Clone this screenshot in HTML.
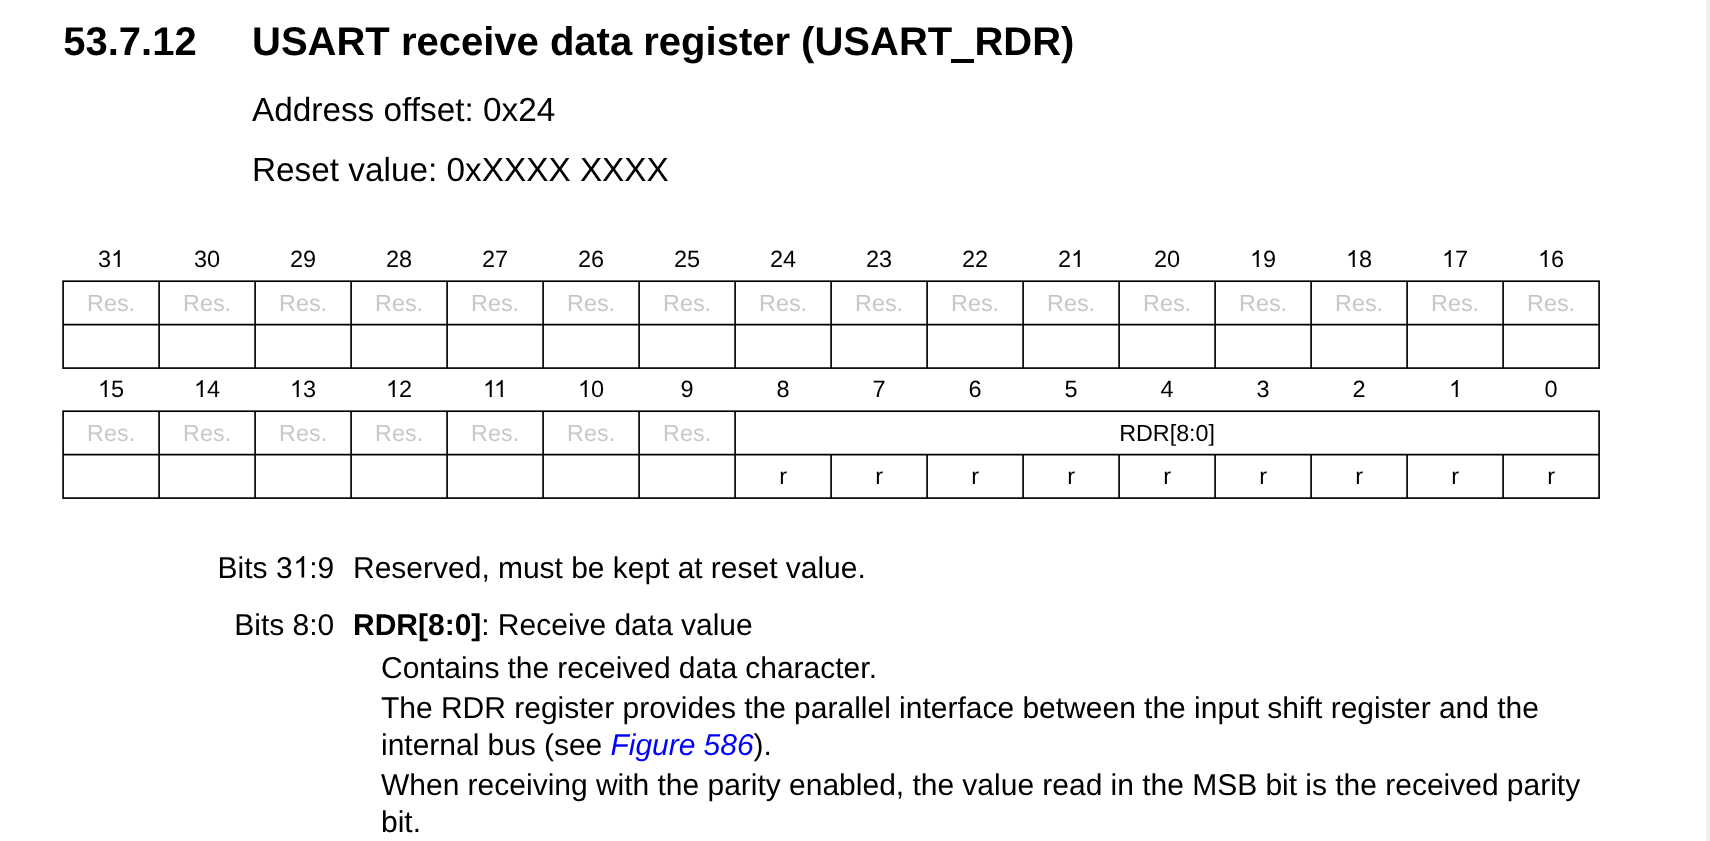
<!DOCTYPE html>
<html><head><meta charset="utf-8"><title>USART_RDR</title>
<style>
html,body{margin:0;padding:0;background:#fff;}
body{width:1710px;height:841px;position:relative;overflow:hidden;font-family:"Liberation Sans",sans-serif;color:#000;}
#pg{position:absolute;left:0;top:0;width:1710px;height:841px;will-change:transform;text-rendering:geometricPrecision;}
.t{position:absolute;white-space:nowrap;line-height:1em;}
.c{text-align:center;}
.r{text-align:right;}
.b{font-weight:bold;}
.g{color:#c8c8c8;}
.lnk{color:#0000ff;font-style:italic;}
.us{display:inline-block;position:relative;width:0.556em;height:0.1em;}
.us i{position:absolute;left:-0.0285em;right:0.0005em;top:0.202em;height:0.095em;background:#000;}
#edge{position:absolute;left:1706px;top:0;width:4px;height:841px;background:#f0f0f0;border-left:1px solid #f1f1f1;box-sizing:border-box;}
svg.ln{position:absolute;left:0;top:0;}
svg.one{display:inline-block;width:0.55615em;height:0.71875em;vertical-align:baseline;overflow:visible;}
</style></head><body>
<div id="edge"></div>
<div id="pg">

<div class="t b" style="left:63.20px;top:22px;font-size:40px;">53.7.12</div>
<div class="t b" style="left:252.00px;top:22px;font-size:40px;">USART receive data register (USART<span class="us"><i></i></span>RDR)</div>
<div class="t " style="left:252.00px;top:94px;font-size:33.33px;">Address offset: 0x24</div>
<div class="t " style="left:252.00px;top:154px;font-size:33.33px;">Reset value: 0xXXXX XXXX</div>
<svg class="ln" width="1710" height="841" viewBox="0 0 1710 841"><g stroke="#000" stroke-width="1.67" fill="none"><rect x="63.1" y="281.2" width="1536.00" height="86.90"/><path d="M63.1 324.6H1599.1"/><path d="M159.10 281.2V368.1"/><path d="M255.10 281.2V368.1"/><path d="M351.10 281.2V368.1"/><path d="M447.10 281.2V368.1"/><path d="M543.10 281.2V368.1"/><path d="M639.10 281.2V368.1"/><path d="M735.10 281.2V368.1"/><path d="M831.10 281.2V368.1"/><path d="M927.10 281.2V368.1"/><path d="M1023.10 281.2V368.1"/><path d="M1119.10 281.2V368.1"/><path d="M1215.10 281.2V368.1"/><path d="M1311.10 281.2V368.1"/><path d="M1407.10 281.2V368.1"/><path d="M1503.10 281.2V368.1"/><rect x="63.1" y="411.2" width="1536.00" height="86.90"/><path d="M63.1 454.6H1599.1"/><path d="M159.10 411.2V498.1"/><path d="M255.10 411.2V498.1"/><path d="M351.10 411.2V498.1"/><path d="M447.10 411.2V498.1"/><path d="M543.10 411.2V498.1"/><path d="M639.10 411.2V498.1"/><path d="M735.10 411.2V498.1"/><path d="M831.10 454.6V498.1"/><path d="M927.10 454.6V498.1"/><path d="M1023.10 454.6V498.1"/><path d="M1119.10 454.6V498.1"/><path d="M1215.10 454.6V498.1"/><path d="M1311.10 454.6V498.1"/><path d="M1407.10 454.6V498.1"/><path d="M1503.10 454.6V498.1"/></g></svg>
<div class="t c " style="left:11.10px;width:200px;top:248px;font-size:23.5px;">3<svg class="one" viewBox="0 -1472 1139 1472"><path transform="scale(1,-1)" d="M763 0H583V1147Q518 1085 412.5 1023T223 930V1104Q373 1174.5 485 1275T647 1472H763Z"/></svg></div>
<div class="t c " style="left:11.10px;width:200px;top:378px;font-size:23.5px;"><svg class="one" viewBox="0 -1472 1139 1472"><path transform="scale(1,-1)" d="M763 0H583V1147Q518 1085 412.5 1023T223 930V1104Q373 1174.5 485 1275T647 1472H763Z"/></svg>5</div>
<div class="t c g" style="left:11.10px;width:200px;top:292px;font-size:23.33px;">Res.</div>
<div class="t c g" style="left:11.10px;width:200px;top:422px;font-size:23.33px;">Res.</div>
<div class="t c " style="left:107.10px;width:200px;top:248px;font-size:23.5px;">30</div>
<div class="t c " style="left:107.10px;width:200px;top:378px;font-size:23.5px;"><svg class="one" viewBox="0 -1472 1139 1472"><path transform="scale(1,-1)" d="M763 0H583V1147Q518 1085 412.5 1023T223 930V1104Q373 1174.5 485 1275T647 1472H763Z"/></svg>4</div>
<div class="t c g" style="left:107.10px;width:200px;top:292px;font-size:23.33px;">Res.</div>
<div class="t c g" style="left:107.10px;width:200px;top:422px;font-size:23.33px;">Res.</div>
<div class="t c " style="left:203.10px;width:200px;top:248px;font-size:23.5px;">29</div>
<div class="t c " style="left:203.10px;width:200px;top:378px;font-size:23.5px;"><svg class="one" viewBox="0 -1472 1139 1472"><path transform="scale(1,-1)" d="M763 0H583V1147Q518 1085 412.5 1023T223 930V1104Q373 1174.5 485 1275T647 1472H763Z"/></svg>3</div>
<div class="t c g" style="left:203.10px;width:200px;top:292px;font-size:23.33px;">Res.</div>
<div class="t c g" style="left:203.10px;width:200px;top:422px;font-size:23.33px;">Res.</div>
<div class="t c " style="left:299.10px;width:200px;top:248px;font-size:23.5px;">28</div>
<div class="t c " style="left:299.10px;width:200px;top:378px;font-size:23.5px;"><svg class="one" viewBox="0 -1472 1139 1472"><path transform="scale(1,-1)" d="M763 0H583V1147Q518 1085 412.5 1023T223 930V1104Q373 1174.5 485 1275T647 1472H763Z"/></svg>2</div>
<div class="t c g" style="left:299.10px;width:200px;top:292px;font-size:23.33px;">Res.</div>
<div class="t c g" style="left:299.10px;width:200px;top:422px;font-size:23.33px;">Res.</div>
<div class="t c " style="left:395.10px;width:200px;top:248px;font-size:23.5px;">27</div>
<div class="t c " style="left:395.10px;width:200px;top:378px;font-size:23.5px;"><svg class="one" viewBox="0 -1472 1139 1472"><path transform="scale(1,-1)" d="M763 0H583V1147Q518 1085 412.5 1023T223 930V1104Q373 1174.5 485 1275T647 1472H763Z"/></svg><svg class="one" style="margin-left:-0.0742em" viewBox="0 -1472 1139 1472"><path transform="scale(1,-1)" d="M763 0H583V1147Q518 1085 412.5 1023T223 930V1104Q373 1174.5 485 1275T647 1472H763Z"/></svg></div>
<div class="t c g" style="left:395.10px;width:200px;top:292px;font-size:23.33px;">Res.</div>
<div class="t c g" style="left:395.10px;width:200px;top:422px;font-size:23.33px;">Res.</div>
<div class="t c " style="left:491.10px;width:200px;top:248px;font-size:23.5px;">26</div>
<div class="t c " style="left:491.10px;width:200px;top:378px;font-size:23.5px;"><svg class="one" viewBox="0 -1472 1139 1472"><path transform="scale(1,-1)" d="M763 0H583V1147Q518 1085 412.5 1023T223 930V1104Q373 1174.5 485 1275T647 1472H763Z"/></svg>0</div>
<div class="t c g" style="left:491.10px;width:200px;top:292px;font-size:23.33px;">Res.</div>
<div class="t c g" style="left:491.10px;width:200px;top:422px;font-size:23.33px;">Res.</div>
<div class="t c " style="left:587.10px;width:200px;top:248px;font-size:23.5px;">25</div>
<div class="t c " style="left:587.10px;width:200px;top:378px;font-size:23.5px;">9</div>
<div class="t c g" style="left:587.10px;width:200px;top:292px;font-size:23.33px;">Res.</div>
<div class="t c g" style="left:587.10px;width:200px;top:422px;font-size:23.33px;">Res.</div>
<div class="t c " style="left:683.10px;width:200px;top:248px;font-size:23.5px;">24</div>
<div class="t c " style="left:683.10px;width:200px;top:378px;font-size:23.5px;">8</div>
<div class="t c g" style="left:683.10px;width:200px;top:292px;font-size:23.33px;">Res.</div>
<div class="t c " style="left:683.10px;width:200px;top:465px;font-size:23.33px;">r</div>
<div class="t c " style="left:779.10px;width:200px;top:248px;font-size:23.5px;">23</div>
<div class="t c " style="left:779.10px;width:200px;top:378px;font-size:23.5px;">7</div>
<div class="t c g" style="left:779.10px;width:200px;top:292px;font-size:23.33px;">Res.</div>
<div class="t c " style="left:779.10px;width:200px;top:465px;font-size:23.33px;">r</div>
<div class="t c " style="left:875.10px;width:200px;top:248px;font-size:23.5px;">22</div>
<div class="t c " style="left:875.10px;width:200px;top:378px;font-size:23.5px;">6</div>
<div class="t c g" style="left:875.10px;width:200px;top:292px;font-size:23.33px;">Res.</div>
<div class="t c " style="left:875.10px;width:200px;top:465px;font-size:23.33px;">r</div>
<div class="t c " style="left:971.10px;width:200px;top:248px;font-size:23.5px;">2<svg class="one" viewBox="0 -1472 1139 1472"><path transform="scale(1,-1)" d="M763 0H583V1147Q518 1085 412.5 1023T223 930V1104Q373 1174.5 485 1275T647 1472H763Z"/></svg></div>
<div class="t c " style="left:971.10px;width:200px;top:378px;font-size:23.5px;">5</div>
<div class="t c g" style="left:971.10px;width:200px;top:292px;font-size:23.33px;">Res.</div>
<div class="t c " style="left:971.10px;width:200px;top:465px;font-size:23.33px;">r</div>
<div class="t c " style="left:1067.10px;width:200px;top:248px;font-size:23.5px;">20</div>
<div class="t c " style="left:1067.10px;width:200px;top:378px;font-size:23.5px;">4</div>
<div class="t c g" style="left:1067.10px;width:200px;top:292px;font-size:23.33px;">Res.</div>
<div class="t c " style="left:1067.10px;width:200px;top:465px;font-size:23.33px;">r</div>
<div class="t c " style="left:1163.10px;width:200px;top:248px;font-size:23.5px;"><svg class="one" viewBox="0 -1472 1139 1472"><path transform="scale(1,-1)" d="M763 0H583V1147Q518 1085 412.5 1023T223 930V1104Q373 1174.5 485 1275T647 1472H763Z"/></svg>9</div>
<div class="t c " style="left:1163.10px;width:200px;top:378px;font-size:23.5px;">3</div>
<div class="t c g" style="left:1163.10px;width:200px;top:292px;font-size:23.33px;">Res.</div>
<div class="t c " style="left:1163.10px;width:200px;top:465px;font-size:23.33px;">r</div>
<div class="t c " style="left:1259.10px;width:200px;top:248px;font-size:23.5px;"><svg class="one" viewBox="0 -1472 1139 1472"><path transform="scale(1,-1)" d="M763 0H583V1147Q518 1085 412.5 1023T223 930V1104Q373 1174.5 485 1275T647 1472H763Z"/></svg>8</div>
<div class="t c " style="left:1259.10px;width:200px;top:378px;font-size:23.5px;">2</div>
<div class="t c g" style="left:1259.10px;width:200px;top:292px;font-size:23.33px;">Res.</div>
<div class="t c " style="left:1259.10px;width:200px;top:465px;font-size:23.33px;">r</div>
<div class="t c " style="left:1355.10px;width:200px;top:248px;font-size:23.5px;"><svg class="one" viewBox="0 -1472 1139 1472"><path transform="scale(1,-1)" d="M763 0H583V1147Q518 1085 412.5 1023T223 930V1104Q373 1174.5 485 1275T647 1472H763Z"/></svg>7</div>
<div class="t c " style="left:1355.10px;width:200px;top:378px;font-size:23.5px;"><svg class="one" viewBox="0 -1472 1139 1472"><path transform="scale(1,-1)" d="M763 0H583V1147Q518 1085 412.5 1023T223 930V1104Q373 1174.5 485 1275T647 1472H763Z"/></svg></div>
<div class="t c g" style="left:1355.10px;width:200px;top:292px;font-size:23.33px;">Res.</div>
<div class="t c " style="left:1355.10px;width:200px;top:465px;font-size:23.33px;">r</div>
<div class="t c " style="left:1451.10px;width:200px;top:248px;font-size:23.5px;"><svg class="one" viewBox="0 -1472 1139 1472"><path transform="scale(1,-1)" d="M763 0H583V1147Q518 1085 412.5 1023T223 930V1104Q373 1174.5 485 1275T647 1472H763Z"/></svg>6</div>
<div class="t c " style="left:1451.10px;width:200px;top:378px;font-size:23.5px;">0</div>
<div class="t c g" style="left:1451.10px;width:200px;top:292px;font-size:23.33px;">Res.</div>
<div class="t c " style="left:1451.10px;width:200px;top:465px;font-size:23.33px;">r</div>
<div class="t c " style="left:1067.10px;width:200px;top:422px;font-size:23.33px;">RDR[8:0]</div>
<div class="t r " style="left:34.30px;width:300px;top:554px;font-size:30px;">Bits 3<svg class="one" viewBox="0 -1472 1139 1472"><path transform="scale(1,-1)" d="M763 0H583V1147Q518 1085 412.5 1023T223 930V1104Q373 1174.5 485 1275T647 1472H763Z"/></svg>:9</div>
<div class="t " style="left:353.00px;top:554px;font-size:30px;word-spacing:-0.13px;">Reserved, must be kept at reset value.</div>
<div class="t r " style="left:34.30px;width:300px;top:611px;font-size:30px;">Bits 8:0</div>
<div class="t " style="left:353.00px;top:611px;font-size:30px;word-spacing:-0.15px;"><span class="b">RDR[8:0]</span>: Receive data value</div>
<div class="t " style="left:381.00px;top:654px;font-size:30px;word-spacing:-0.25px;">Contains the received data character.</div>
<div class="t " style="left:381.00px;top:694px;font-size:30px;word-spacing:-0.077px;">The RDR register provides the parallel interface between the input shift register and the</div>
<div class="t " style="left:381.00px;top:731px;font-size:30px;word-spacing:-0.25px;">internal bus (see <span class="lnk">Figure 586</span>).</div>
<div class="t " style="left:381.00px;top:771px;font-size:30px;word-spacing:-0.09px;">When receiving with the parity enabled, the value read in the MSB bit is the received parity</div>
<div class="t " style="left:381.00px;top:808px;font-size:30px;">bit.</div>
</div></body></html>
